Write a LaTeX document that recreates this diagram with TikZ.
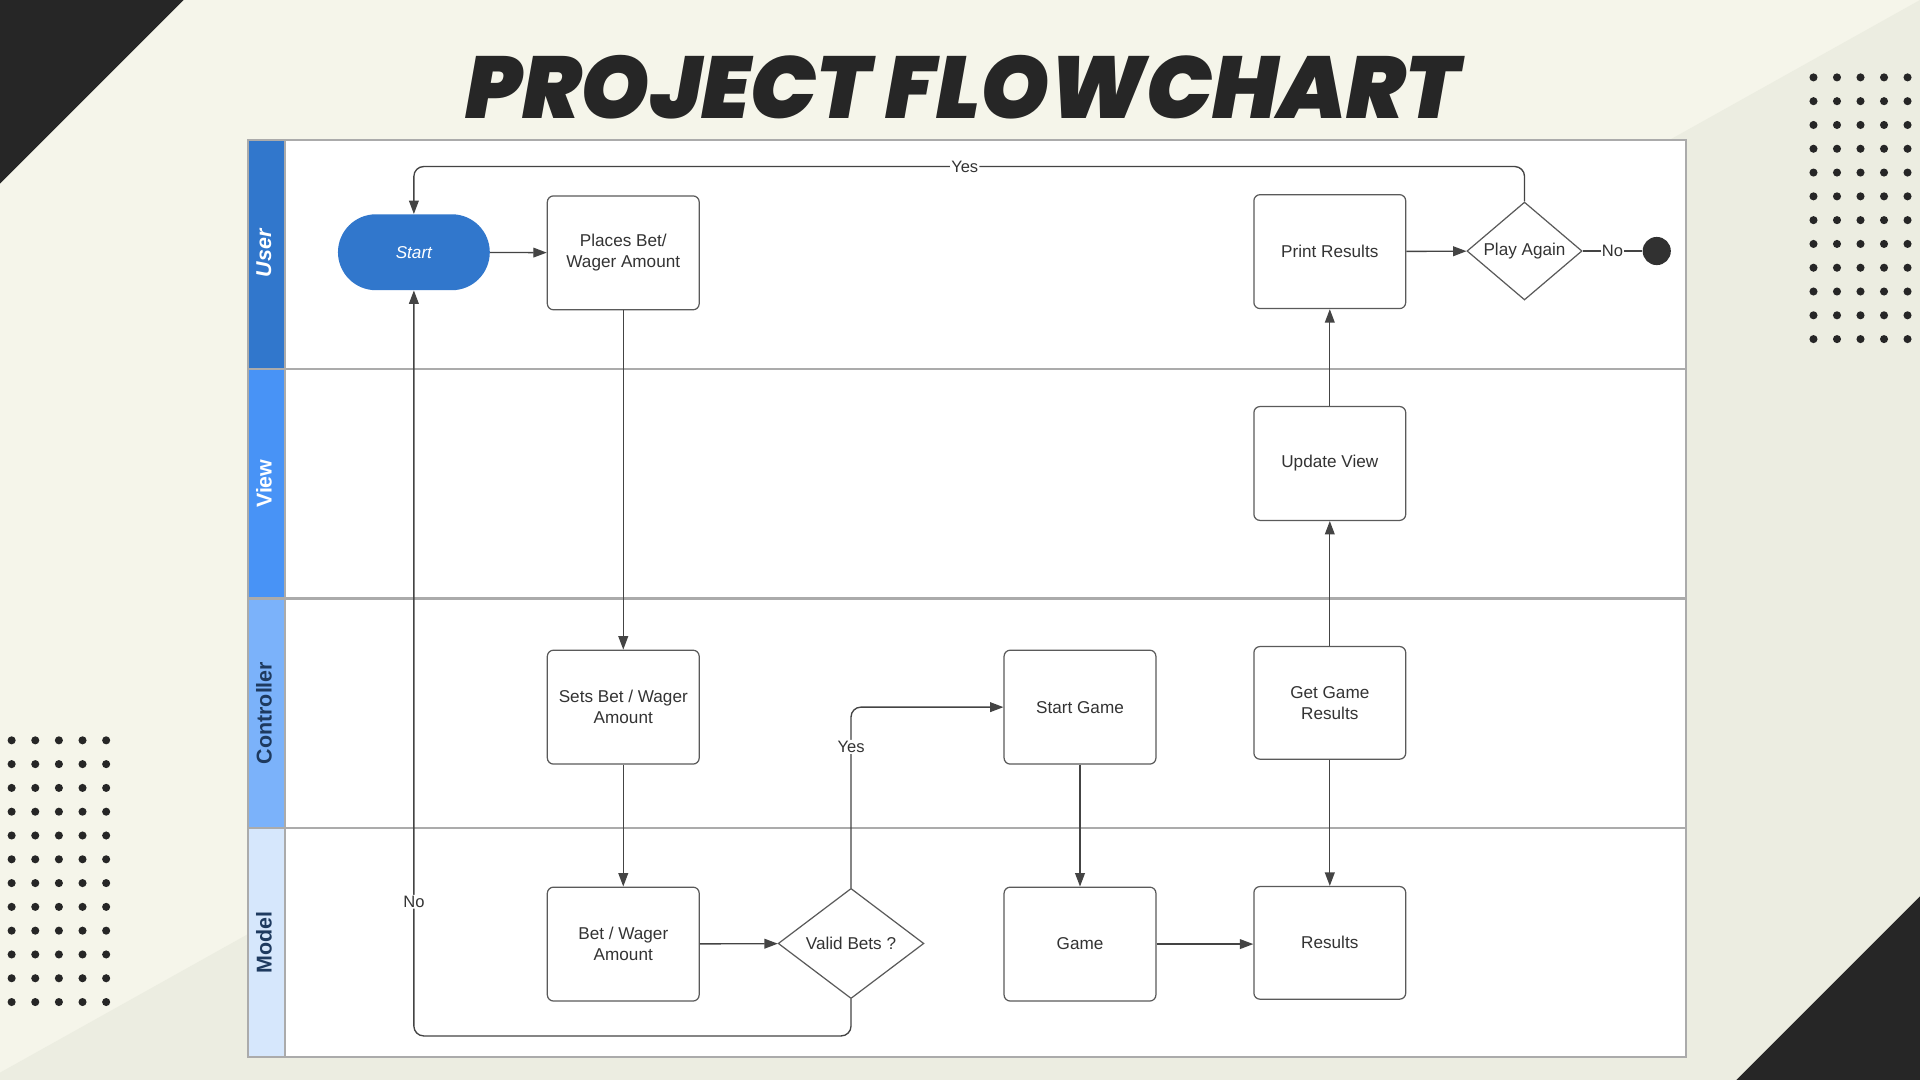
\documentclass[tikz,border=0pt]{standalone}
\usepackage{fontspec}
\setmainfont{Liberation Sans}
\newfontfamily\titlefont{Poppins Black Italic}
\usetikzlibrary{positioning, arrows.meta, shapes.geometric, calc}

\definecolor{bgLight}{HTML}{F5F5EA}
\definecolor{bgShade}{HTML}{ECEDE1}
\definecolor{inkDark}{HTML}{262626}
\definecolor{inkText}{HTML}{333333}
\definecolor{inkLine}{HTML}{444444}
\definecolor{boxEdge}{HTML}{5A5A5A}
\definecolor{laneEdge}{HTML}{ABABAB}
\definecolor{laneUser}{HTML}{3177CC}
\definecolor{laneView}{HTML}{4893F6}
\definecolor{laneCtrl}{HTML}{7BB2FA}
\definecolor{laneModel}{HTML}{D6E7FC}
\definecolor{laneInk}{HTML}{1E3A5F}

\tikzset{
        my-box/.style={
            rectangle, draw=boxEdge, line width=1pt, rounded corners=5pt, fill=white,
            minimum width=124pt, minimum height=93pt, align=center, text=inkText,
            font=\fontsize{14}{17}\selectfont
        },
        my-decision/.style={
            diamond, draw=boxEdge, line width=1pt, fill=white, inner sep=0pt,
            align=center, text=inkText, font=\fontsize{14}{17}\selectfont
        },
        my-terminal/.style={
            rectangle, rounded corners=31pt, fill=laneUser, minimum width=124pt,
            minimum height=62pt, text=white, font=\fontsize{14}{17}\selectfont\itshape
        },
        my-end/.style={
            circle, fill=inkDark!95, minimum size=23pt, inner sep=0pt
        },
        my-lane-label/.style={
            rotate=90, font=\fontsize{17.5}{20}\selectfont\bfseries
        },
        my-line/.style={
            draw=inkLine, line width=1.1pt, -{Triangle[length=11pt, width=8pt]}
        },
        my-label/.style={
            fill=white, inner sep=1pt, text=inkText, font=\fontsize{13.5}{16}\selectfont
        },
}

\begin{document}
\begin{tikzpicture}[x=1pt, y=-1pt]

        \useasboundingbox (0,0) rectangle (1568,882);

        %BACKGROUND
        \fill [bgLight] (0,0) rectangle (1568,882);
        \fill [bgShade] (1568,0) -- (0,876) -- (0,882) -- (1568,882) -- cycle;
        \fill [inkDark] (0,0) -- (150,0) -- (0,150) -- cycle;
        \fill [inkDark] (1568,732) -- (1568,882) -- (1418,882) -- cycle;
        \foreach \i in {0,...,4} {
            \foreach \j in {0,...,11} {
                \fill [inkDark] (1481+\i*19.2, 63.2+\j*19.43) circle (3.3pt);
                \fill [inkDark] (9.5+\i*19.3, 604.6+\j*19.43) circle (3.3pt);
            }
        }

        \node [font=\fontsize{71.7}{78}\selectfont\titlefont, text=inkDark]
              (TITLE) at (786,71) {PROJECT FLOWCHART};

        %SWIMLANES
        \fill [white] (202.8,114.3) rectangle (1377,863);
        \fill [laneUser]  (202.8,114.3) rectangle (232.8,301.5);
        \fill [laneView]  (202.8,301.5) rectangle (232.8,488.7);
        \fill [laneCtrl]  (202.8,488.7) rectangle (232.8,675.9);
        \fill [laneModel] (202.8,675.9) rectangle (232.8,863);
        \draw [laneEdge, line width=1.5pt] (232.8,114.3) -- (232.8,863);
        \draw [laneEdge, line width=1.8pt] (202.8,301.5) -- (1377,301.5)
                                           (202.8,488.7) -- (1377,488.7)
                                           (202.8,675.9) -- (1377,675.9);
        \draw [laneEdge, line width=1.5pt] (202.8,114.3) rectangle (1377,863);

        \node [my-lane-label, text=white, font=\fontsize{17.5}{20}\selectfont\bfseries\itshape]
                                            (LUSER)  at (215.5,207)   {User};
        \node [my-lane-label, text=white]   (LVIEW)  at (215.5,395)   {View};
        \node [my-lane-label, text=laneInk] (LCTRL)  at (215.5,582.3) {Controller};
        \node [my-lane-label, text=laneInk] (LMODEL) at (215.5,769.5) {Model};

        %DRAW NODES (relative to the first box in each column)
        \node [my-terminal]  (START)     at (338,206)                  {Start};
        \node [my-box]       (PLACES)    at (509,206.5)                {Places Bet/\\Wager Amount};
        \node [my-box]       (SETS)      at ($(PLACES)+(0,371)$)       {Sets Bet / Wager\\Amount};
        \node [my-box]       (BETAMT)    at ($(SETS)+(0,193.5)$)       {Bet / Wager\\Amount};
        \node [my-decision, minimum width=119pt, minimum height=90pt]
                             (VALID)     at ($(BETAMT)+(186,-0.5)$)    {Valid Bets ?};
        \node [my-box]       (STARTGAME) at ($(SETS)+(373,0)$)         {Start Game};
        \node [my-box]       (GAME)      at ($(STARTGAME)+(0,193.5)$)  {Game};
        \node [my-box, minimum height=92pt]
                             (RESULTS)   at ($(GAME)+(204,-1)$)        {Results};
        \node [my-box, minimum height=92pt]
                             (GETRES)    at ($(RESULTS)+(0,-196)$)     {Get Game\\Results};
        \node [my-box]       (UPDATE)    at ($(GETRES)+(0,-195.5)$)    {Update View};
        \node [my-box]       (PRINT)     at ($(UPDATE)+(0,-173)$)      {Print Results};
        \node [my-decision, minimum width=94pt, minimum height=76pt]
                             (AGAIN)     at ($(PRINT)+(159,-0.5)$)     {Play Again};
        \node [my-end]       (END)       at ($(AGAIN)+(108,0)$)        {};

        \coordinate (NOLOOP)  at (338,846);
        \coordinate (YESLOOP) at (338,136);

        % CONNECT DOWN THE BET COLUMN
        \draw [my-line] (START) -- (PLACES);
        \draw [my-line] (PLACES) -- (SETS);
        \draw [my-line] (SETS) -- (BETAMT);
        \draw [my-line] (BETAMT) -- (VALID);

        % CONNECT DECISION BRANCHES
        \draw [my-line, rounded corners=8pt] (VALID.north) |- node [my-label, pos=0.39] {Yes} (STARTGAME.west);
        \draw [my-line, rounded corners=8pt] (VALID.south) |- (NOLOOP) -- node [my-label, pos=0.18] {No} (START.south);

        % CONNECT GAME AND RESULTS
        \draw [my-line] (STARTGAME) -- (GAME);
        \draw [my-line] (GAME) -- (RESULTS.west |- GAME.east);
        \draw [my-line] (GETRES) -- (RESULTS);
        \draw [my-line] (GETRES) -- (UPDATE);
        \draw [my-line] (UPDATE) -- (PRINT);
        \draw [my-line] (PRINT) -- (AGAIN);

        % CONNECT PLAY AGAIN
        \draw [my-line, rounded corners=8pt] (AGAIN.north) |- node [my-label, pos=0.752] {Yes} (YESLOOP) -- (START.north);
        \draw [draw=inkLine, line width=1.1pt] (AGAIN.east) -- node [my-label] {No} (END.west);

    \end{tikzpicture}
\end{document}
